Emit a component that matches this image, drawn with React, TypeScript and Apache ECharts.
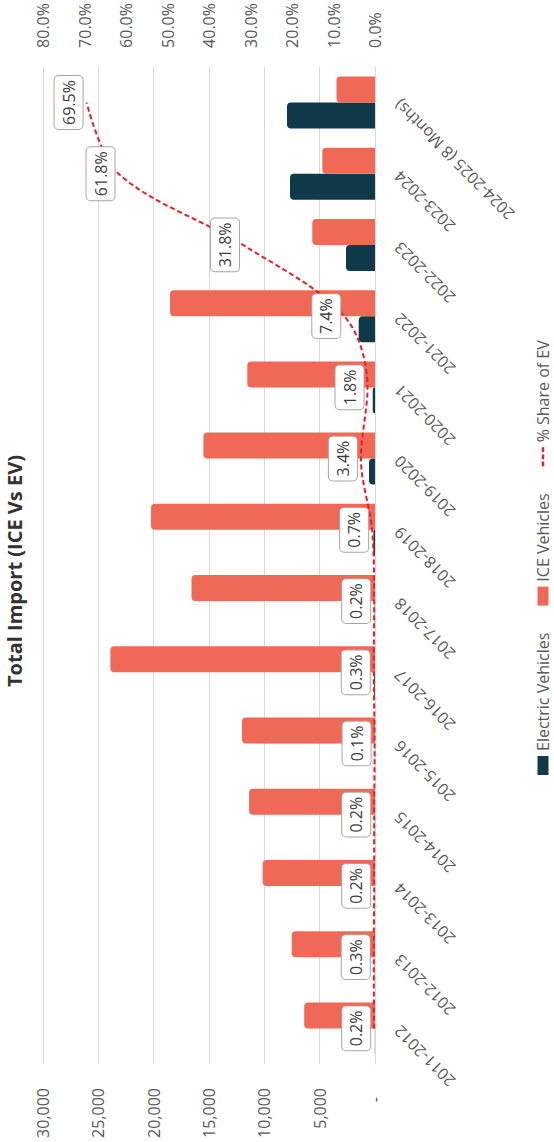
import React, { useEffect, useRef } from "react";
import * as echarts from "echarts";

const categories = [
  "2011-2012",
  "2012-2013",
  "2013-2014",
  "2014-2015",
  "2015-2016",
  "2016-2017",
  "2017-2018",
  "2018-2019",
  "2019-2020",
  "2020-2021",
  "2021-2022",
  "2022-2023",
  "2023-2024",
  "2024-2025 (8 Months)",
];
const evValues = [13, 23, 20, 23, 12, 72, 33, 143, 542, 208, 1473, 2620, 7680, 7950];
const iceValues = [6400, 7520, 10150, 11380, 12020, 23910, 16580, 20240, 15510, 11540, 18520, 5665, 4760, 3480];
const evShare = [0.2, 0.3, 0.2, 0.2, 0.1, 0.3, 0.2, 0.7, 3.4, 1.8, 7.4, 31.8, 61.8, 69.5];
const countTicks = [0, 5000, 10000, 15000, 20000, 25000, 30000];
const shareTicks = [0, 10, 20, 30, 40, 50, 60, 70, 80];

const FONT = "'Open Sans', 'Noto Sans', sans-serif";
const RED = "#EE1C25";

export default function App() {
  const ref = useRef<HTMLDivElement>(null);
  useEffect(() => {
    if (!ref.current) return;
    const chart = echarts.init(ref.current, undefined, { renderer: "svg" });
    chart.setOption({
      animation: false,
      backgroundColor: "#ffffff",
      textStyle: { fontFamily: FONT },
      title: {
        text: "Total Import (ICE Vs EV)",
        left: "center",
        top: -1,
        textStyle: { fontFamily: FONT, fontSize: 20, fontWeight: "bold", color: "#333333" },
      },
      legend: {
        left: 362,
        top: 530,
        itemWidth: 19,
        itemHeight: 11,
        itemGap: 27,
        textStyle: { fontFamily: FONT, fontSize: 16, color: "#595959" },
        data: [
          { name: "Electric Vehicles", icon: "rect" },
          { name: "ICE Vehicles", icon: "rect" },
          {
            name: "% Share of EV",
            icon: "path://M0,0h4v2h-4z M6,0h4v2h-4z M12,0h4v2h-4z",
            itemStyle: { color: RED },
          },
        ],
      },
      grid: { left: 78, right: 66, top: 43, bottom: 179, containLabel: false },
      xAxis: {
        type: "category",
        data: categories,
        axisLine: { show: true, lineStyle: { color: "#D9D9D9", width: 1 } },
        axisTick: { show: false },
        axisLabel: {
          interval: 0,
          rotate: 45,
          margin: 22,
          fontFamily: FONT,
          fontSize: 16,
          color: "#595959",
        },
      },
      yAxis: [
        {
          type: "value",
          min: countTicks[0],
          max: countTicks[countTicks.length - 1],
          interval: countTicks[1] - countTicks[0],
          axisLine: { show: false },
          axisTick: { show: false },
          splitLine: { show: true, lineStyle: { color: "#D9D9D9", width: 1 } },
          axisLabel: {
            margin: 24,
            fontFamily: FONT,
            fontSize: 16,
            color: "#595959",
            formatter: (v: number) => (v === 0 ? "{z|-}" : v.toLocaleString("en-US")),
            rich: { z: { fontFamily: FONT, fontSize: 16, color: "#595959", padding: [0, 9, 0, 0] } },
          },
        },
        {
          type: "value",
          position: "right",
          min: shareTicks[0],
          max: shareTicks[shareTicks.length - 1],
          interval: shareTicks[1] - shareTicks[0],
          axisLine: { show: false },
          axisTick: { show: false },
          splitLine: { show: false },
          axisLabel: {
            margin: 19,
            fontFamily: FONT,
            fontSize: 16,
            color: "#595959",
            formatter: (v: number) => v.toFixed(1) + "%",
          },
        },
      ],
      series: [
        {
          name: "Electric Vehicles",
          type: "bar",
          data: evValues,
          barWidth: 26,
          barGap: "0%",
          itemStyle: { color: "#10394A", borderRadius: [4, 4, 0, 0] },
        },
        {
          name: "ICE Vehicles",
          type: "bar",
          data: iceValues,
          barWidth: 26,
          barGap: "0%",
          itemStyle: { color: "#F06957", borderRadius: [4, 4, 0, 0] },
        },
        {
          name: "% Share of EV",
          type: "line",
          yAxisIndex: 1,
          data: evShare,
          smooth: 0.33,
          symbol: "none",
          showSymbol: false,
          z: 5,
          lineStyle: { color: RED, width: 2, type: [5, 3] },
          itemStyle: { color: RED },
        },
        {
          name: "share-labels",
          type: "scatter",
          yAxisIndex: 1,
          data: evShare,
          symbol: "circle",
          symbolSize: 2,
          z: 6,
          silent: true,
          itemStyle: { color: "rgba(0,0,0,0)", opacity: 1 },
          label: {
            show: true,
            position: "top",
            distance: 3,
            formatter: (p: any) => Number(p.value).toFixed(1) + "%",
            fontFamily: FONT,
            fontSize: 16,
            lineHeight: 20,
            color: "#404040",
            opacity: 1,
            backgroundColor: "#ffffff",
            borderColor: "#A6A6A6",
            borderWidth: 1,
            borderRadius: 4,
            padding: [4, 4, 4, 4],
          },
        },
      ],
    });
    return () => chart.dispose();
  }, []);

  return (
    <div
      style={{
        position: "fixed",
        left: 0,
        top: 0,
        width: 554,
        height: 1142,
        overflow: "hidden",
        background: "#ffffff",
      }}
    >
      <div
        ref={ref}
        style={{
          position: "absolute",
          left: 0,
          top: 0,
          width: 1142,
          height: 554,
          transformOrigin: "0 0",
          transform: "translate(0px, 1142px) rotate(-90deg)",
        }}
      />
    </div>
  );
}
